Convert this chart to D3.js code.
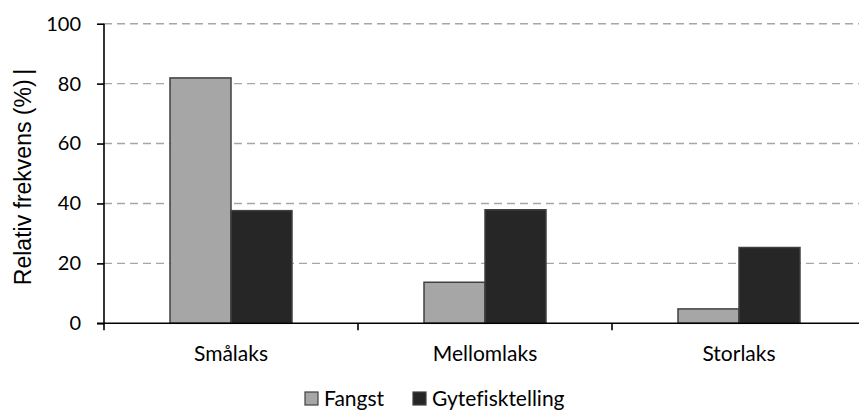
<!DOCTYPE html>
<html>
<head>
<meta charset="utf-8">
<script src="https://cdn.jsdelivr.net/npm/d3@7"></script>
<style>
  html, body { margin: 0; padding: 0; background: #fff; }
  svg { display: block; }
  text { font-variant-ligatures: none; }
</style>
</head>
<body>
<svg id="chart" width="859" height="419"></svg>
<script>
// Size classes of salmon
const categories = ["Smålaks", "Mellomlaks", "Storlaks"];
// Series names, in legend order
const seriesNames = ["Fangst", "Gytefisktelling"];
// Relative frequency (%) per size class
const fangst = [81.9, 13.7, 4.8];
const gytefisktelling = [37.6, 37.9, 25.3];
// Y axis ticks
const yTicks = [0, 20, 40, 60, 80, 100];

const seriesValues = [fangst, gytefisktelling];
const colors = { "Fangst": "#a6a6a6", "Gytefisktelling": "#262626" };

const svg = d3.select("#chart");
const plotLeft = 104, plotRight = 866, plotTop = 23.7, plotBottom = 323.3;

const x0 = d3.scaleBand().domain(categories).range([plotLeft, plotRight]).paddingInner(0).paddingOuter(0);
const x1 = d3.scaleBand().domain(seriesNames).range([0, x0.bandwidth()]).paddingInner(0).paddingOuter(1.082);
const y = d3.scaleLinear().domain([0, 100]).range([plotBottom, plotTop]);

const bodyFont = "Lato, 'Open Sans', sans-serif";

// Horizontal dashed gridlines
svg.append("g")
  .selectAll("line")
  .data(yTicks.filter(d => d > 0))
  .join("line")
  .attr("x1", plotLeft).attr("x2", 859)
  .attr("y1", d => y(d)).attr("y2", d => y(d))
  .attr("stroke", "#a6a6a6")
  .attr("stroke-width", 1.4)
  .attr("stroke-dasharray", "8,5");

// Bars
const rows = categories.map((c, i) => ({
  category: c,
  values: seriesNames.map((s, j) => ({ series: s, value: seriesValues[j][i] }))
}));

svg.append("g")
  .selectAll("g")
  .data(rows)
  .join("g")
  .attr("transform", d => `translate(${x0(d.category)},0)`)
  .selectAll("rect")
  .data(d => d.values)
  .join("rect")
  .attr("x", d => x1(d.series))
  .attr("width", x1.bandwidth())
  .attr("y", d => y(d.value))
  .attr("height", d => y(0) - y(d.value))
  .attr("fill", d => colors[d.series])
  .attr("stroke", "#404040")
  .attr("stroke-width", 1.5);

// Y axis
const yAxis = svg.append("g")
  .attr("transform", `translate(${plotLeft},0)`)
  .call(d3.axisLeft(y).tickValues(yTicks).tickSize(7).tickPadding(16).tickSizeOuter(0));
yAxis.select(".domain").attr("stroke", "#000").attr("stroke-width", 1.6)
  .attr("d", `M0,${plotTop}V${plotBottom + 7}`);
yAxis.selectAll(".tick line").attr("stroke", "#000").attr("stroke-width", 1.6);
yAxis.selectAll(".tick text")
  .attr("font-family", bodyFont).attr("font-size", 20).attr("fill", "#000");

// X axis line with category boundary ticks
svg.append("line")
  .attr("x1", plotLeft - 7).attr("x2", 859)
  .attr("y1", plotBottom).attr("y2", plotBottom)
  .attr("stroke", "#000").attr("stroke-width", 1.6);
svg.append("g")
  .selectAll("line")
  .data(categories.slice(1))
  .join("line")
  .attr("x1", d => x0(d)).attr("x2", d => x0(d))
  .attr("y1", plotBottom).attr("y2", plotBottom + 7)
  .attr("stroke", "#000").attr("stroke-width", 1.6);

// Category labels
svg.append("g")
  .selectAll("text")
  .data(categories)
  .join("text")
  .attr("x", d => x0(d) + x0.bandwidth() / 2)
  .attr("y", 361)
  .attr("text-anchor", "middle")
  .attr("font-family", bodyFont).attr("font-size", 21)
  .attr("fill", "#000")
  .text(d => d);

// Y axis title
svg.append("text")
  .attr("transform", `translate(31,${(62 + 292) / 2}) rotate(-90)`)
  .attr("text-anchor", "middle")
  .attr("font-family", "'Liberation Sans', Arial, sans-serif")
  .attr("font-size", 23)
  .attr("fill", "#000")
  .text("Relativ frekvens (%)\u2009|");

// Legend
const legendItems = [
  { name: "Fangst", sx: 305, tx: 324 },
  { name: "Gytefisktelling", sx: 413, tx: 432 }
];
const legend = svg.append("g");
legend.selectAll("rect")
  .data(legendItems)
  .join("rect")
  .attr("x", d => d.sx).attr("y", 392)
  .attr("width", 13).attr("height", 13)
  .attr("fill", d => colors[d.name])
  .attr("stroke", "#404040").attr("stroke-width", 1.2);
legend.selectAll("text")
  .data(legendItems)
  .join("text")
  .attr("x", d => d.tx).attr("y", 405.5)
  .attr("font-family", bodyFont).attr("font-size", 21)
  .attr("fill", "#000")
  .text(d => d.name);
</script>
</body>
</html>
